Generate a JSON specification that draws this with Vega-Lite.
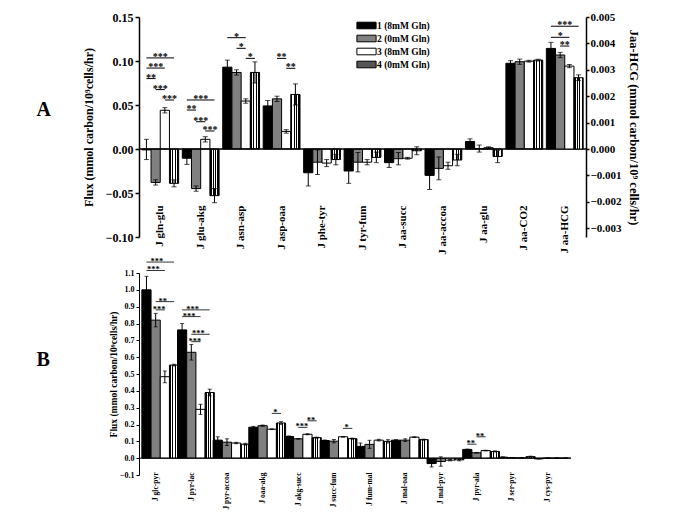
{
"$schema": "https://vega.github.io/schema/vega-lite/v6.json",
"padding": {"left": 36, "top": 11, "right": 5, "bottom": 5},
"bounds": "flush",
"spacing": 36,
"config": {
  "view": {"stroke": null},
  "font": "Liberation Serif",
  "axis": {"labelFont": "Liberation Serif", "titleFont": "Liberation Serif", "labelFontWeight": "bold", "titleFontWeight": "bold", "labelColor": "black", "titleColor": "black", "domainColor": "black", "tickColor": "black", "grid": false, "labelOverlap": false}
},
"datasets": {
  "a": [
    {"cat":"J gln-glu","g":"1","v":-0.001,"lo":-0.012,"hi":0.011},
    {"cat":"J gln-glu","g":"2","v":-0.038,"lo":-0.041,"hi":-0.035},
    {"cat":"J gln-glu","g":"3","v":0.044,"lo":0.041,"hi":0.047},
    {"cat":"J gln-glu","g":"4","v":-0.039,"lo":-0.043,"hi":-0.035},
    {"cat":"J glu-akg","g":"1","v":-0.0105,"lo":-0.0175,"hi":-0.0035},
    {"cat":"J glu-akg","g":"2","v":-0.045,"lo":-0.048,"hi":-0.042},
    {"cat":"J glu-akg","g":"3","v":0.011,"lo":0.008,"hi":0.014},
    {"cat":"J glu-akg","g":"4","v":-0.053,"lo":-0.061,"hi":-0.045},
    {"cat":"J asn-asp","g":"1","v":0.093,"lo":0.085,"hi":0.101},
    {"cat":"J asn-asp","g":"2","v":0.087,"lo":0.084,"hi":0.09},
    {"cat":"J asn-asp","g":"3","v":0.0545,"lo":0.052,"hi":0.057},
    {"cat":"J asn-asp","g":"4","v":0.087,"lo":0.075,"hi":0.099},
    {"cat":"J asp-oaa","g":"1","v":0.049,"lo":0.043,"hi":0.055},
    {"cat":"J asp-oaa","g":"2","v":0.057,"lo":0.054,"hi":0.06},
    {"cat":"J asp-oaa","g":"3","v":0.02,"lo":0.018,"hi":0.022},
    {"cat":"J asp-oaa","g":"4","v":0.062,"lo":0.05,"hi":0.074},
    {"cat":"J phe-tyr","g":"1","v":-0.027,"lo":-0.042,"hi":-0.012},
    {"cat":"J phe-tyr","g":"2","v":-0.015,"lo":-0.029,"hi":-0.001},
    {"cat":"J phe-tyr","g":"3","v":-0.016,"lo":-0.02,"hi":-0.012},
    {"cat":"J phe-tyr","g":"4","v":-0.012,"lo":-0.018,"hi":-0.006},
    {"cat":"J tyr-fum","g":"1","v":-0.025,"lo":-0.039,"hi":-0.011},
    {"cat":"J tyr-fum","g":"2","v":-0.015,"lo":-0.026,"hi":-0.004},
    {"cat":"J tyr-fum","g":"3","v":-0.015,"lo":-0.018,"hi":-0.012},
    {"cat":"J tyr-fum","g":"4","v":-0.0095,"lo":-0.0155,"hi":-0.0035},
    {"cat":"J aa-succ","g":"1","v":-0.0155,"lo":-0.021,"hi":-0.01},
    {"cat":"J aa-succ","g":"2","v":-0.011,"lo":-0.018,"hi":-0.004},
    {"cat":"J aa-succ","g":"3","v":-0.0105,"lo":-0.0115,"hi":-0.0095},
    {"cat":"J aa-succ","g":"4","v":-0.002,"lo":-0.0065,"hi":0.0025},
    {"cat":"J aa-accoa","g":"1","v":-0.03,"lo":-0.046,"hi":-0.014},
    {"cat":"J aa-accoa","g":"2","v":-0.022,"lo":-0.035,"hi":-0.009},
    {"cat":"J aa-accoa","g":"3","v":-0.019,"lo":-0.023,"hi":-0.015},
    {"cat":"J aa-accoa","g":"4","v":-0.0125,"lo":-0.019,"hi":-0.006},
    {"cat":"J aa-glu","g":"1","v":0.0085,"lo":0.0055,"hi":0.0115},
    {"cat":"J aa-glu","g":"2","v":0.0005,"lo":-0.0035,"hi":0.0045},
    {"cat":"J aa-glu","g":"3","v":0.0015,"lo":0.0005,"hi":0.0025},
    {"cat":"J aa-glu","g":"4","v":-0.0085,"lo":-0.0155,"hi":-0.0015},
    {"cat":"J aa-CO2","g":"1","v":0.0974,"lo":0.0944,"hi":0.1004},
    {"cat":"J aa-CO2","g":"2","v":0.0992,"lo":0.0962,"hi":0.1022},
    {"cat":"J aa-CO2","g":"3","v":0.0998,"lo":0.0988,"hi":0.1008},
    {"cat":"J aa-CO2","g":"4","v":0.101,"lo":0.1,"hi":0.102}
  ],
  "ah": [
    {"cat":"J aa-HCG","g":"1","v":0.00381,"lo":0.00358,"hi":0.00404},
    {"cat":"J aa-HCG","g":"2","v":0.00356,"lo":0.00346,"hi":0.00366},
    {"cat":"J aa-HCG","g":"3","v":0.00314,"lo":0.00308,"hi":0.0032},
    {"cat":"J aa-HCG","g":"4","v":0.0027,"lo":0.00259,"hi":0.00281}
  ],
  "sa": [
    {"cat":"J gln-glu","from":"1","to":"4","y":0.1035,"s":"***"},
    {"cat":"J gln-glu","from":"1","to":"3","y":0.092,"s":"***"},
    {"cat":"J gln-glu","from":"1","to":"2","y":0.08,"s":"**"},
    {"cat":"J gln-glu","from":"2","to":"3","y":0.0675,"s":"***"},
    {"cat":"J gln-glu","from":"3","to":"4","y":0.0557,"s":"***"},
    {"cat":"J glu-akg","from":"1","to":"4","y":0.0557,"s":"***"},
    {"cat":"J glu-akg","from":"1","to":"2","y":0.0443,"s":"**"},
    {"cat":"J glu-akg","from":"2","to":"3","y":0.031,"s":"***"},
    {"cat":"J glu-akg","from":"3","to":"4","y":0.0205,"s":"***"},
    {"cat":"J asn-asp","from":"1","to":"3","y":0.1265,"s":"*"},
    {"cat":"J asn-asp","from":"2","to":"3","y":0.1144,"s":"*"},
    {"cat":"J asn-asp","from":"3","to":"4","y":0.103,"s":"*"},
    {"cat":"J asp-oaa","from":"2","to":"3","y":0.103,"s":"**"},
    {"cat":"J asp-oaa","from":"3","to":"4","y":0.0917,"s":"**"}
  ],
  "sah": [
    {"cat":"J aa-HCG","from":"1","to":"4","y":0.00465,"s":"***"},
    {"cat":"J aa-HCG","from":"1","to":"3","y":0.00423,"s":"*"},
    {"cat":"J aa-HCG","from":"2","to":"3","y":0.0039,"s":"**"}
  ],
  "b": [
    {"cat":"J glc-pyr","g":"1","v":1.0,"lo":0.92,"hi":1.08},
    {"cat":"J glc-pyr","g":"2","v":0.82,"lo":0.78,"hi":0.86},
    {"cat":"J glc-pyr","g":"3","v":0.484,"lo":0.448,"hi":0.518},
    {"cat":"J glc-pyr","g":"4","v":0.553,"lo":0.548,"hi":0.558},
    {"cat":"J pyr-lac","g":"1","v":0.762,"lo":0.725,"hi":0.8},
    {"cat":"J pyr-lac","g":"2","v":0.629,"lo":0.583,"hi":0.675},
    {"cat":"J pyr-lac","g":"3","v":0.29,"lo":0.26,"hi":0.32},
    {"cat":"J pyr-lac","g":"4","v":0.39,"lo":0.37,"hi":0.41},
    {"cat":"J pyr-accoa","g":"1","v":0.107,"lo":0.087,"hi":0.127},
    {"cat":"J pyr-accoa","g":"2","v":0.095,"lo":0.075,"hi":0.115},
    {"cat":"J pyr-accoa","g":"3","v":0.09,"lo":0.086,"hi":0.094},
    {"cat":"J pyr-accoa","g":"4","v":0.083,"lo":0.078,"hi":0.088},
    {"cat":"J oaa-akg","g":"1","v":0.184,"lo":0.179,"hi":0.189},
    {"cat":"J oaa-akg","g":"2","v":0.193,"lo":0.189,"hi":0.197},
    {"cat":"J oaa-akg","g":"3","v":0.172,"lo":0.17,"hi":0.174},
    {"cat":"J oaa-akg","g":"4","v":0.209,"lo":0.201,"hi":0.217},
    {"cat":"J akg-succ","g":"1","v":0.129,"lo":0.126,"hi":0.132},
    {"cat":"J akg-succ","g":"2","v":0.115,"lo":0.113,"hi":0.117},
    {"cat":"J akg-succ","g":"3","v":0.142,"lo":0.139,"hi":0.145},
    {"cat":"J akg-succ","g":"4","v":0.122,"lo":0.119,"hi":0.125},
    {"cat":"J succ-fum","g":"1","v":0.105,"lo":0.102,"hi":0.108},
    {"cat":"J succ-fum","g":"2","v":0.101,"lo":0.091,"hi":0.111},
    {"cat":"J succ-fum","g":"3","v":0.127,"lo":0.125,"hi":0.129},
    {"cat":"J succ-fum","g":"4","v":0.116,"lo":0.113,"hi":0.119},
    {"cat":"J fum-mal","g":"1","v":0.07,"lo":0.05,"hi":0.09},
    {"cat":"J fum-mal","g":"2","v":0.082,"lo":0.058,"hi":0.106},
    {"cat":"J fum-mal","g":"3","v":0.107,"lo":0.102,"hi":0.112},
    {"cat":"J fum-mal","g":"4","v":0.1,"lo":0.09,"hi":0.11},
    {"cat":"J mal-oaa","g":"1","v":0.107,"lo":0.104,"hi":0.11},
    {"cat":"J mal-oaa","g":"2","v":0.107,"lo":0.099,"hi":0.115},
    {"cat":"J mal-oaa","g":"3","v":0.125,"lo":0.123,"hi":0.127},
    {"cat":"J mal-oaa","g":"4","v":0.11,"lo":0.107,"hi":0.113},
    {"cat":"J mal-pyr","g":"1","v":-0.032,"lo":-0.052,"hi":-0.012},
    {"cat":"J mal-pyr","g":"2","v":-0.02,"lo":-0.048,"hi":0.008},
    {"cat":"J mal-pyr","g":"3","v":-0.012,"lo":-0.016,"hi":-0.008},
    {"cat":"J mal-pyr","g":"4","v":-0.01,"lo":-0.016,"hi":-0.004},
    {"cat":"J pyr-ala","g":"1","v":0.052,"lo":0.05,"hi":0.054},
    {"cat":"J pyr-ala","g":"2","v":0.032,"lo":0.03,"hi":0.034},
    {"cat":"J pyr-ala","g":"3","v":0.045,"lo":0.043,"hi":0.047},
    {"cat":"J pyr-ala","g":"4","v":0.04,"lo":0.037,"hi":0.043},
    {"cat":"J ser-pyr","g":"1","v":0.006,"lo":0.004,"hi":0.008},
    {"cat":"J ser-pyr","g":"2","v":0.003,"lo":0.002,"hi":0.004},
    {"cat":"J ser-pyr","g":"3","v":0.002,"lo":0.001,"hi":0.003},
    {"cat":"J ser-pyr","g":"4","v":0.009,"lo":0.006,"hi":0.012},
    {"cat":"J cys-pyr","g":"1","v":-0.004,"lo":-0.005,"hi":-0.003},
    {"cat":"J cys-pyr","g":"2","v":0.001,"lo":0,"hi":0.002},
    {"cat":"J cys-pyr","g":"3","v":0.001,"lo":0,"hi":0.002},
    {"cat":"J cys-pyr","g":"4","v":0.001,"lo":0,"hi":0.002}
  ],
  "sb": [
    {"cat":"J glc-pyr","from":"1","to":"4","y":1.165,"s":"***"},
    {"cat":"J glc-pyr","from":"1","to":"3","y":1.115,"s":"***"},
    {"cat":"J glc-pyr","from":"2","to":"4","y":0.93,"s":"**"},
    {"cat":"J glc-pyr","from":"2","to":"3","y":0.881,"s":"***"},
    {"cat":"J pyr-lac","from":"1","to":"4","y":0.881,"s":"***"},
    {"cat":"J pyr-lac","from":"1","to":"3","y":0.841,"s":"***"},
    {"cat":"J pyr-lac","from":"2","to":"4","y":0.736,"s":"***"},
    {"cat":"J pyr-lac","from":"2","to":"3","y":0.692,"s":"***"},
    {"cat":"J oaa-akg","from":"3","to":"4","y":0.266,"s":"*"},
    {"cat":"J akg-succ","from":"2","to":"3","y":0.183,"s":"***"},
    {"cat":"J akg-succ","from":"3","to":"4","y":0.222,"s":"**"},
    {"cat":"J succ-fum","from":"3","to":"4","y":0.177,"s":"*"},
    {"cat":"J pyr-ala","from":"1","to":"2","y":0.083,"s":"**"},
    {"cat":"J pyr-ala","from":"2","to":"3","y":0.127,"s":"**"}
  ]
},
"resolve": {"scale": {"fill": "independent"}, "legend": {"fill": "independent"}},
"vconcat": [
{
  "width": 447, "height": 220,
  "title": {"text": "A", "orient": "left", "angle": 0, "anchor": "middle", "font": "Liberation Serif", "fontWeight": "bold", "fontSize": 20, "color": "black", "offset": 24, "dy": -27},
  "resolve": {"scale": {"y": "independent"}},
  "layer": [
    {
      "layer": [
        {"data": {"name": "a"}, "mark": {"type": "bar", "stroke": "black", "strokeWidth": 1},
         "encoding": {
           "x": {"field": "cat", "type": "nominal", "title": null, "scale": {"domain": ["J gln-glu","J glu-akg","J asn-asp","J asp-oaa","J phe-tyr","J tyr-fum","J aa-succ","J aa-accoa","J aa-glu","J aa-CO2","J aa-HCG"], "paddingInner": 0.09, "paddingOuter": 0.07},
                 "axis": {"orient": "bottom", "offset": -33, "labelAngle": -90, "labelPadding": 1, "domain": false, "ticks": false, "labelFontSize": 11, "title": null}},
           "xOffset": {"field": "g", "type": "nominal", "scale": {"domain": ["1","2","3","4"], "paddingInner": 0, "paddingOuter": 0}},
           "y": {"field": "v", "type": "quantitative", "title": "Flux (mmol carbon/10⁹cells/hr)", "scale": {"domain": [-0.1, 0.15], "nice": false, "zero": false},
                 "axis": {"orient": "left", "values": [-0.1,-0.05,0,0.05,0.1,0.15], "tickCount": 30, "format": ".2f", "labelOverlap": false, "labelFontSize": 12, "tickSize": 4, "tickWidth": 1.5, "domainWidth": 1.5, "labelPadding": 2, "title": "Flux (mmol carbon/10⁹cells/hr)", "titleFontSize": 12, "titlePadding": 10}},
           "fill": {"field": "g", "type": "nominal",
                    "condition": {"test": "datum.g === '4'", "value": {"gradient":"linear","x1":0,"y1":0,"x2":1,"y2":0,"stops":[{"offset":0,"color":"#000"},{"offset":0.18,"color":"#000"},{"offset":0.18,"color":"#fff"},{"offset":0.32,"color":"#fff"},{"offset":0.32,"color":"#000"},{"offset":0.43,"color":"#000"},{"offset":0.43,"color":"#fff"},{"offset":0.57,"color":"#fff"},{"offset":0.57,"color":"#000"},{"offset":0.68,"color":"#000"},{"offset":0.68,"color":"#fff"},{"offset":0.82,"color":"#fff"},{"offset":0.82,"color":"#000"},{"offset":1,"color":"#000"}]}},
                    "scale": {"domain": ["1","2","3","4"], "range": ["#000000", "#808080", "#ffffff", "#555555"]},
                    "legend": {"orient": "none", "legendX": 221, "legendY": 2, "title": null, "symbolType": "M-1.6,-0.55H1.6V0.55H-1.6Z", "symbolSize": 144, "symbolStrokeColor": "black", "symbolStrokeWidth": 1, "labelFont": "Liberation Serif", "labelFontWeight": "bold", "labelFontSize": 9.5, "labelColor": "black", "rowPadding": 1,
                               "labelExpr": "datum.label == '1' ? '1 (8mM Gln)' : datum.label == '2' ? '2 (0mM Gln)' : datum.label == '3' ? '3 (8mM Gln)' : '4 (0mM Gln)'"}}
         }},
        {"data": {"name": "a"}, "mark": {"type": "rule", "color": "black", "strokeWidth": 1},
         "encoding": {
           "x": {"field": "cat", "type": "nominal", "title": null},
           "xOffset": {"field": "g", "type": "nominal"},
           "y": {"field": "lo", "type": "quantitative", "title": "Flux (mmol carbon/10⁹cells/hr)", "scale": {"domain": [-0.1, 0.15], "nice": false, "zero": false}},
           "y2": {"field": "hi"}}},
        {"data": {"name": "a"}, "mark": {"type": "tick", "color": "black", "size": 5, "thickness": 1},
         "encoding": {
           "x": {"field": "cat", "type": "nominal", "title": null},
           "xOffset": {"field": "g", "type": "nominal"},
           "y": {"field": "lo", "type": "quantitative", "title": "Flux (mmol carbon/10⁹cells/hr)", "scale": {"domain": [-0.1, 0.15], "nice": false, "zero": false}}}},
        {"data": {"name": "a"}, "mark": {"type": "tick", "color": "black", "size": 5, "thickness": 1},
         "encoding": {
           "x": {"field": "cat", "type": "nominal", "title": null},
           "xOffset": {"field": "g", "type": "nominal"},
           "y": {"field": "hi", "type": "quantitative", "title": "Flux (mmol carbon/10⁹cells/hr)", "scale": {"domain": [-0.1, 0.15], "nice": false, "zero": false}}}},
        {"data": {"values": [{}]}, "mark": {"type": "rule", "color": "black", "strokeWidth": 1.5},
         "encoding": {"y": {"datum": 0, "title": "Flux (mmol carbon/10⁹cells/hr)", "scale": {"domain": [-0.1, 0.15], "nice": false, "zero": false}}}},
        {"data": {"name": "sa"}, "transform": [{"fold": ["from", "to"], "as": ["end", "grp"]}],
         "mark": {"type": "line", "color": "black", "strokeWidth": 1},
         "encoding": {
           "x": {"field": "cat", "type": "nominal", "title": null},
           "xOffset": {"field": "grp", "type": "nominal"},
           "y": {"field": "y", "type": "quantitative", "title": "Flux (mmol carbon/10⁹cells/hr)", "scale": {"domain": [-0.1, 0.15], "nice": false, "zero": false}},
           "detail": [{"field": "cat"}, {"field": "y"}]}},
        {"data": {"name": "sa"}, "transform": [{"filter": "datum.to - datum.from == 1"}],
         "mark": {"type": "text", "color": "black", "font": "Liberation Serif", "fontWeight": "bold", "fontSize": 10, "baseline": "alphabetic", "align": "center", "dx": 4.6, "dy": 2},
         "encoding": {
           "x": {"field": "cat", "type": "nominal", "title": null},
           "xOffset": {"field": "from", "type": "nominal"},
           "y": {"field": "y", "type": "quantitative", "title": "Flux (mmol carbon/10⁹cells/hr)", "scale": {"domain": [-0.1, 0.15], "nice": false, "zero": false}},
           "text": {"field": "s"}}},
        {"data": {"name": "sa"}, "transform": [{"filter": "datum.to - datum.from == 2"}],
         "mark": {"type": "text", "color": "black", "font": "Liberation Serif", "fontWeight": "bold", "fontSize": 10, "baseline": "alphabetic", "align": "center", "dx": 9.2, "dy": 2},
         "encoding": {
           "x": {"field": "cat", "type": "nominal", "title": null},
           "xOffset": {"field": "from", "type": "nominal"},
           "y": {"field": "y", "type": "quantitative", "title": "Flux (mmol carbon/10⁹cells/hr)", "scale": {"domain": [-0.1, 0.15], "nice": false, "zero": false}},
           "text": {"field": "s"}}},
        {"data": {"name": "sa"}, "transform": [{"filter": "datum.to - datum.from == 3"}],
         "mark": {"type": "text", "color": "black", "font": "Liberation Serif", "fontWeight": "bold", "fontSize": 10, "baseline": "alphabetic", "align": "center", "dx": 13.8, "dy": 2},
         "encoding": {
           "x": {"field": "cat", "type": "nominal", "title": null},
           "xOffset": {"field": "from", "type": "nominal"},
           "y": {"field": "y", "type": "quantitative", "title": "Flux (mmol carbon/10⁹cells/hr)", "scale": {"domain": [-0.1, 0.15], "nice": false, "zero": false}},
           "text": {"field": "s"}}}
      ]
    },
    {
      "layer": [
        {"data": {"name": "ah"}, "mark": {"type": "bar", "stroke": "black", "strokeWidth": 1},
         "encoding": {
           "x": {"field": "cat", "type": "nominal", "title": null},
           "xOffset": {"field": "g", "type": "nominal"},
           "y": {"field": "v", "type": "quantitative", "title": "Jaa-HCG (mmol carbon/10⁹ cells/hr)", "scale": {"domain": [-0.0033333, 0.005], "nice": false, "zero": false},
                 "axis": {"orient": "right", "values": [-0.003,-0.002,-0.001,0,0.001,0.002,0.003,0.004,0.005], "tickCount": 30, "format": ".3f", "labelOverlap": false, "labelFontSize": 11, "tickSize": 3, "tickWidth": 1.5, "domainWidth": 1.5, "labelPadding": 1, "title": "Jaa-HCG (mmol carbon/10⁹ cells/hr)", "titleFontSize": 12.5, "titlePadding": 5}},
           "fill": {"field": "g", "type": "nominal",
                    "condition": {"test": "datum.g === '4'", "value": {"gradient":"linear","x1":0,"y1":0,"x2":1,"y2":0,"stops":[{"offset":0,"color":"#000"},{"offset":0.18,"color":"#000"},{"offset":0.18,"color":"#fff"},{"offset":0.32,"color":"#fff"},{"offset":0.32,"color":"#000"},{"offset":0.43,"color":"#000"},{"offset":0.43,"color":"#fff"},{"offset":0.57,"color":"#fff"},{"offset":0.57,"color":"#000"},{"offset":0.68,"color":"#000"},{"offset":0.68,"color":"#fff"},{"offset":0.82,"color":"#fff"},{"offset":0.82,"color":"#000"},{"offset":1,"color":"#000"}]}}}}},
        {"data": {"name": "ah"}, "mark": {"type": "rule", "color": "black", "strokeWidth": 1},
         "encoding": {
           "x": {"field": "cat", "type": "nominal", "title": null},
           "xOffset": {"field": "g", "type": "nominal"},
           "y": {"field": "lo", "type": "quantitative", "title": "Jaa-HCG (mmol carbon/10⁹ cells/hr)", "scale": {"domain": [-0.0033333, 0.005], "nice": false, "zero": false}},
           "y2": {"field": "hi"}}},
        {"data": {"name": "ah"}, "mark": {"type": "tick", "color": "black", "size": 5, "thickness": 1},
         "encoding": {
           "x": {"field": "cat", "type": "nominal", "title": null},
           "xOffset": {"field": "g", "type": "nominal"},
           "y": {"field": "lo", "type": "quantitative", "title": "Jaa-HCG (mmol carbon/10⁹ cells/hr)", "scale": {"domain": [-0.0033333, 0.005], "nice": false, "zero": false}}}},
        {"data": {"name": "ah"}, "mark": {"type": "tick", "color": "black", "size": 5, "thickness": 1},
         "encoding": {
           "x": {"field": "cat", "type": "nominal", "title": null},
           "xOffset": {"field": "g", "type": "nominal"},
           "y": {"field": "hi", "type": "quantitative", "title": "Jaa-HCG (mmol carbon/10⁹ cells/hr)", "scale": {"domain": [-0.0033333, 0.005], "nice": false, "zero": false}}}},
        {"data": {"name": "sah"}, "transform": [{"fold": ["from", "to"], "as": ["end", "grp"]}],
         "mark": {"type": "line", "color": "black", "strokeWidth": 1},
         "encoding": {
           "x": {"field": "cat", "type": "nominal", "title": null},
           "xOffset": {"field": "grp", "type": "nominal"},
           "y": {"field": "y", "type": "quantitative", "title": "Jaa-HCG (mmol carbon/10⁹ cells/hr)", "scale": {"domain": [-0.0033333, 0.005], "nice": false, "zero": false}},
           "detail": [{"field": "cat"}, {"field": "y"}]}},
        {"data": {"name": "sah"}, "transform": [{"filter": "datum.to - datum.from == 1"}],
         "mark": {"type": "text", "color": "black", "font": "Liberation Serif", "fontWeight": "bold", "fontSize": 10, "baseline": "alphabetic", "align": "center", "dx": 4.6, "dy": 2},
         "encoding": {
           "x": {"field": "cat", "type": "nominal", "title": null},
           "xOffset": {"field": "from", "type": "nominal"},
           "y": {"field": "y", "type": "quantitative", "title": "Jaa-HCG (mmol carbon/10⁹ cells/hr)", "scale": {"domain": [-0.0033333, 0.005], "nice": false, "zero": false}},
           "text": {"field": "s"}}},
        {"data": {"name": "sah"}, "transform": [{"filter": "datum.to - datum.from == 2"}],
         "mark": {"type": "text", "color": "black", "font": "Liberation Serif", "fontWeight": "bold", "fontSize": 10, "baseline": "alphabetic", "align": "center", "dx": 9.2, "dy": 2},
         "encoding": {
           "x": {"field": "cat", "type": "nominal", "title": null},
           "xOffset": {"field": "from", "type": "nominal"},
           "y": {"field": "y", "type": "quantitative", "title": "Jaa-HCG (mmol carbon/10⁹ cells/hr)", "scale": {"domain": [-0.0033333, 0.005], "nice": false, "zero": false}},
           "text": {"field": "s"}}},
        {"data": {"name": "sah"}, "transform": [{"filter": "datum.to - datum.from == 3"}],
         "mark": {"type": "text", "color": "black", "font": "Liberation Serif", "fontWeight": "bold", "fontSize": 10, "baseline": "alphabetic", "align": "center", "dx": 13.8, "dy": 2},
         "encoding": {
           "x": {"field": "cat", "type": "nominal", "title": null},
           "xOffset": {"field": "from", "type": "nominal"},
           "y": {"field": "y", "type": "quantitative", "title": "Jaa-HCG (mmol carbon/10⁹ cells/hr)", "scale": {"domain": [-0.0033333, 0.005], "nice": false, "zero": false}},
           "text": {"field": "s"}}}
      ]
    }
  ]
},
{
  "width": 426, "height": 202,
  "title": {"text": "B", "orient": "left", "angle": 0, "anchor": "middle", "font": "Liberation Serif", "fontWeight": "bold", "fontSize": 20, "color": "black", "offset": 52, "dy": -24},
  "layer": [
    {"data": {"name": "b"}, "mark": {"type": "bar", "stroke": "black", "strokeWidth": 1},
     "encoding": {
       "x": {"field": "cat", "type": "nominal", "title": null, "scale": {"domain": ["J glc-pyr","J pyr-lac","J pyr-accoa","J oaa-akg","J akg-succ","J succ-fum","J fum-mal","J mal-oaa","J mal-pyr","J pyr-ala","J ser-pyr","J cys-pyr"], "paddingInner": 0.21, "paddingOuter": 0.08},
             "axis": {"orient": "bottom", "offset": -4, "labelAngle": -90, "labelPadding": 1, "domain": false, "ticks": false, "labelFontSize": 7.5, "title": null}},
       "xOffset": {"field": "g", "type": "nominal", "scale": {"domain": ["1","2","3","4"], "paddingInner": 0, "paddingOuter": 0}},
       "y": {"field": "v", "type": "quantitative", "title": "Flux (mmol carbon/10⁹cells/hr)", "scale": {"domain": [-0.1, 1.1], "nice": false, "zero": false},
             "axis": {"orient": "left", "values": [-0.1,0,0.1,0.2,0.3,0.4,0.5,0.6,0.7,0.8,0.9,1.0,1.1], "tickCount": 30, "format": ".1f", "labelOverlap": false, "labelFontSize": 8, "tickSize": 3, "tickWidth": 1, "domainWidth": 1, "labelPadding": 2, "title": "Flux (mmol carbon/10⁹cells/hr)", "titleFontSize": 9.5, "titlePadding": 1}},
       "fill": {"field": "g", "type": "nominal",
                "condition": {"test": "datum.g === '4'", "value": {"gradient":"linear","x1":0,"y1":0,"x2":1,"y2":0,"stops":[{"offset":0,"color":"#000"},{"offset":0.18,"color":"#000"},{"offset":0.18,"color":"#fff"},{"offset":0.32,"color":"#fff"},{"offset":0.32,"color":"#000"},{"offset":0.43,"color":"#000"},{"offset":0.43,"color":"#fff"},{"offset":0.57,"color":"#fff"},{"offset":0.57,"color":"#000"},{"offset":0.68,"color":"#000"},{"offset":0.68,"color":"#fff"},{"offset":0.82,"color":"#fff"},{"offset":0.82,"color":"#000"},{"offset":1,"color":"#000"}]}},
                "scale": {"domain": ["1","2","3","4"], "range": ["#000000", "#808080", "#ffffff", "#555555"]},
                "legend": null}
     }},
    {"data": {"name": "b"}, "mark": {"type": "rule", "color": "black", "strokeWidth": 1},
     "encoding": {
       "x": {"field": "cat", "type": "nominal", "title": null},
       "xOffset": {"field": "g", "type": "nominal"},
       "y": {"field": "lo", "type": "quantitative", "title": "Flux (mmol carbon/10⁹cells/hr)", "scale": {"domain": [-0.1, 1.1], "nice": false, "zero": false}},
       "y2": {"field": "hi"}}},
    {"data": {"name": "b"}, "mark": {"type": "tick", "color": "black", "size": 4, "thickness": 1},
     "encoding": {
       "x": {"field": "cat", "type": "nominal", "title": null},
       "xOffset": {"field": "g", "type": "nominal"},
       "y": {"field": "lo", "type": "quantitative", "title": "Flux (mmol carbon/10⁹cells/hr)", "scale": {"domain": [-0.1, 1.1], "nice": false, "zero": false}}}},
    {"data": {"name": "b"}, "mark": {"type": "tick", "color": "black", "size": 4, "thickness": 1},
     "encoding": {
       "x": {"field": "cat", "type": "nominal", "title": null},
       "xOffset": {"field": "g", "type": "nominal"},
       "y": {"field": "hi", "type": "quantitative", "title": "Flux (mmol carbon/10⁹cells/hr)", "scale": {"domain": [-0.1, 1.1], "nice": false, "zero": false}}}},
    {"data": {"values": [{}]}, "mark": {"type": "rule", "color": "black", "strokeWidth": 1},
     "encoding": {"y": {"datum": 0, "title": "Flux (mmol carbon/10⁹cells/hr)", "scale": {"domain": [-0.1, 1.1], "nice": false, "zero": false}}}},
    {"data": {"name": "sb"}, "transform": [{"fold": ["from", "to"], "as": ["end", "grp"]}],
     "mark": {"type": "line", "color": "black", "strokeWidth": 0.8},
     "encoding": {
       "x": {"field": "cat", "type": "nominal", "title": null},
       "xOffset": {"field": "grp", "type": "nominal"},
       "y": {"field": "y", "type": "quantitative", "title": "Flux (mmol carbon/10⁹cells/hr)", "scale": {"domain": [-0.1, 1.1], "nice": false, "zero": false}},
       "detail": [{"field": "cat"}, {"field": "y"}]}},
    {"data": {"name": "sb"}, "transform": [{"filter": "datum.to - datum.from == 1"}],
     "mark": {"type": "text", "color": "black", "font": "Liberation Serif", "fontWeight": "bold", "fontSize": 8.5, "baseline": "alphabetic", "align": "center", "dx": 3.5, "dy": 2},
     "encoding": {
       "x": {"field": "cat", "type": "nominal", "title": null},
       "xOffset": {"field": "from", "type": "nominal"},
       "y": {"field": "y", "type": "quantitative", "title": "Flux (mmol carbon/10⁹cells/hr)", "scale": {"domain": [-0.1, 1.1], "nice": false, "zero": false}},
       "text": {"field": "s"}}},
    {"data": {"name": "sb"}, "transform": [{"filter": "datum.to - datum.from == 2"}],
     "mark": {"type": "text", "color": "black", "font": "Liberation Serif", "fontWeight": "bold", "fontSize": 8.5, "baseline": "alphabetic", "align": "center", "dx": 7.0, "dy": 2},
     "encoding": {
       "x": {"field": "cat", "type": "nominal", "title": null},
       "xOffset": {"field": "from", "type": "nominal"},
       "y": {"field": "y", "type": "quantitative", "title": "Flux (mmol carbon/10⁹cells/hr)", "scale": {"domain": [-0.1, 1.1], "nice": false, "zero": false}},
       "text": {"field": "s"}}},
    {"data": {"name": "sb"}, "transform": [{"filter": "datum.to - datum.from == 3"}],
     "mark": {"type": "text", "color": "black", "font": "Liberation Serif", "fontWeight": "bold", "fontSize": 8.5, "baseline": "alphabetic", "align": "center", "dx": 10.5, "dy": 2},
     "encoding": {
       "x": {"field": "cat", "type": "nominal", "title": null},
       "xOffset": {"field": "from", "type": "nominal"},
       "y": {"field": "y", "type": "quantitative", "title": "Flux (mmol carbon/10⁹cells/hr)", "scale": {"domain": [-0.1, 1.1], "nice": false, "zero": false}},
       "text": {"field": "s"}}}
  ]
}
]
}
